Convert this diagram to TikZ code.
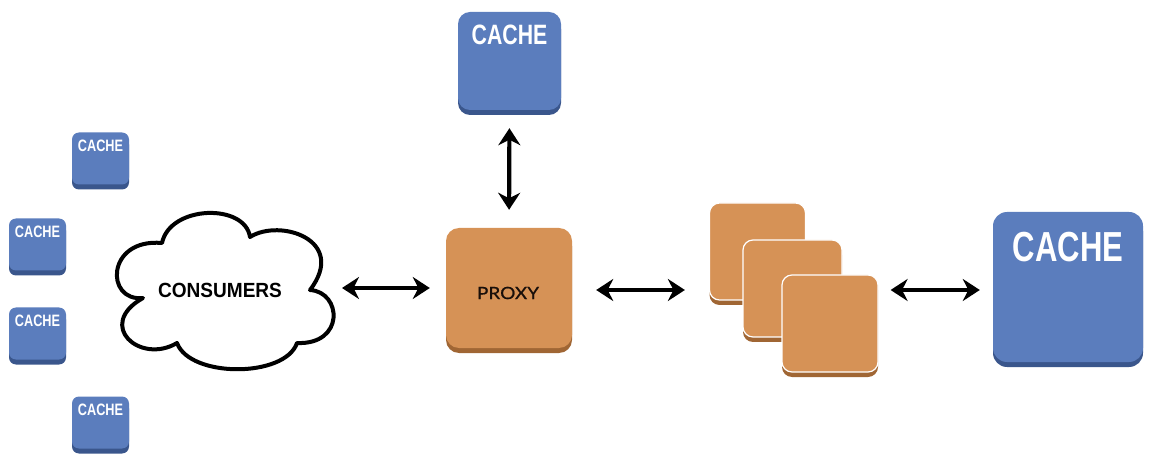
\documentclass[tikz,border=0pt]{standalone}
\usepackage{fontspec}
\setmainfont{Liberation Sans}
\newfontfamily\proxyfont[FakeBold=0.7]{Lato}
\usetikzlibrary{arrows.meta,shadows,calc}
\definecolor{cblue}{RGB}{91,125,189}
\definecolor{cblueS}{RGB}{58,86,140}
\definecolor{corange}{RGB}{214,146,86}
\definecolor{corangeS}{RGB}{160,102,52}
\tikzset{
  bluebox/.style={fill=cblue, rounded corners=#1, draw=none,
    drop shadow={shadow xshift=0pt, shadow yshift=-5pt, fill=cblueS, opacity=1}},
  orangebox/.style={fill=corange, rounded corners=#1,
    drop shadow={shadow xshift=0pt, shadow yshift=-5pt, fill=corangeS, opacity=1}},
  cachetxt/.style={text=white, font=\bfseries, inner sep=0pt, anchor=north},
  dbl/.style={line width=4.2pt, {Stealth[length=17pt,width=22pt]}-{Stealth[length=17pt,width=22pt]}},
}
\begin{document}
\begin{tikzpicture}[x=1pt,y=-1pt]
\useasboundingbox (0,0) rectangle (1154,462);
% top cache
\node[bluebox=12pt, minimum width=103pt, minimum height=98pt] (ctop) at (509.5,61) {};
\node[cachetxt, font=\bfseries\fontsize{28}{30}\selectfont] (ttop) at ($(ctop.north)+(0,13)$) {\scalebox{0.76}[1]{CACHE}};
% small caches
\foreach \n/\x/\y in {s1/100.5/158.5, s2/37.5/244.5, s3/37.5/333.5, s4/100.5/422.5}{
  \node[bluebox=7pt, minimum width=57pt, minimum height=52pt] (\n) at (\x,\y) {};
  \node[cachetxt, font=\bfseries\fontsize{16.5}{18}\selectfont] (t\n) at ($(\n.north)+(0,7)$) {\scalebox{0.77}[1]{CACHE}};
}
% cloud
\draw[line width=4pt, line join=round, fill=white]
  (143,298) .. controls (105,302) and (106,238) .. (162,243)
  .. controls (170,205) and (245,203) .. (250,237)
  .. controls (280,218) and (348,240) .. (310,290)
  .. controls (342,292) and (345,345) .. (297,343)
  .. controls (285,378) and (190,378) .. (177,343)
  .. controls (140,365) and (95,325) .. cycle;
\coordinate (cons) at (336,288);
\node[font=\bfseries\fontsize{20.5}{22}\selectfont, inner sep=0pt] (tcons) at (220,290) {\scalebox{0.93}[1]{CONSUMERS}};
% proxy
\node[orangebox=13pt, minimum width=126pt, minimum height=120pt] (proxy) at (509,288) {};
\node[font=\proxyfont\fontsize{17}{19}\selectfont, text={rgb,255:red,25;green,15;blue,10}, inner sep=0pt] (tproxy) at (508,293) {\scalebox{1.12}[1]{PROXY}};
% stack
\node[orangebox=10pt, draw=white, line width=1.2pt, minimum width=96pt, minimum height=97pt] (q1) at (757.5,251.5) {};
\node[orangebox=10pt, draw=white, line width=1.2pt, minimum width=99pt, minimum height=97pt] (q2) at (792.5,288.5) {};
\node[orangebox=10pt, draw=white, line width=1.2pt, minimum width=96pt, minimum height=97pt] (q3) at (830,323.5) {};
% big cache
\node[bluebox=14pt, minimum width=150pt, minimum height=150pt] (cbig) at (1068,287) {};
\node[cachetxt, font=\bfseries\fontsize{42}{44}\selectfont] (tbig) at ($(cbig.north)+(0,20)$) {\scalebox{0.74}[1]{CACHE}};
% arrows
\draw[dbl, shorten <=6pt, shorten >=16pt] (cons) -- (cons -| proxy.west);
\draw[dbl, shorten <=18pt, shorten >=18pt] (ctop.south) -- (proxy.north);
\draw[dbl, shorten <=24pt, shorten >=24pt] ($(proxy.east)+(0,2)$) -- ($(proxy.east -| q1.west)+(0,2)$);
\draw[dbl, shorten <=12pt, shorten >=13pt] ($(q3.east |- cbig.west)+(0,3)$) -- ($(cbig.west)+(0,3)$);
\end{tikzpicture}
\end{document}
